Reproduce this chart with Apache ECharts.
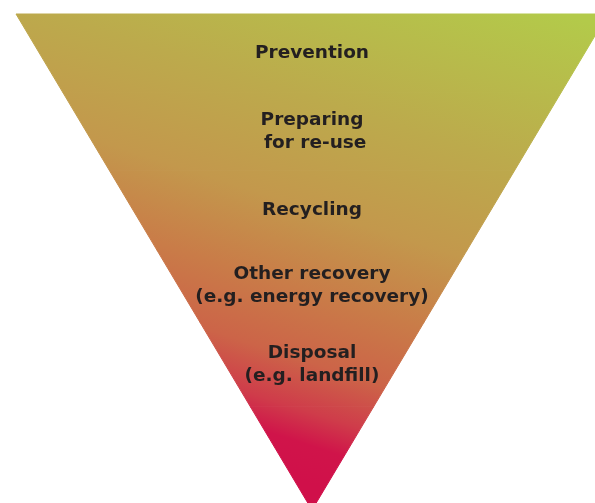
<!DOCTYPE html>
<html>
<head>
<meta charset="utf-8">
<script src="https://cdn.jsdelivr.net/npm/echarts@6/dist/echarts.min.js"></script>
<style>
html,body{margin:0;padding:0;background:#fff;}
#chart{width:595px;height:503px;}
</style>
</head>
<body>
<div id="chart"></div>
<script>
// Waste hierarchy levels (top to bottom); last piece is the unlabeled tip
const levels = ['Prevention', 'Preparing\n for re-use', 'Recycling', 'Other recovery\n(e.g. energy recovery)', 'Disposal\n(e.g. landfill)', ''];
// relative width of the triangle at the top of each level (% of full top width)
const widths = [100, 84.2, 68.5, 52.4, 37.9, 20.8];

const chart = echarts.init(document.getElementById('chart'), null, {renderer: 'canvas'});

const grad = new echarts.graphic.LinearGradient(520, 0, 360, 500, [
  {offset: 0, color: '#b3ca4a'},
  {offset: 0.3, color: '#bcaa4c'},
  {offset: 0.5, color: '#c3984c'},
  {offset: 0.65, color: '#c97c48'},
  {offset: 0.78, color: '#cc6448'},
  {offset: 0.87, color: '#cf3c4a'},
  {offset: 0.93, color: '#d0144a'},
  {offset: 1, color: '#d0104a'}
], true);

const data = levels.map((name, i) => ({
  name: name,
  value: widths[i],
  itemStyle: {
    height: (widths[i] - (i + 1 < widths.length ? widths[i + 1] : 0)) + '%'
  },
  label: {show: name !== ''}
}));

chart.setOption({
  animation: false,
  series: [{
    type: 'funnel',
    sort: 'none',
    left: 16,
    top: 14,
    width: 592,
    height: 496,
    min: 0,
    max: 100,
    minSize: '0%',
    maxSize: '100%',
    gap: 0,
    funnelAlign: 'center',
    itemStyle: {color: grad, borderColor: grad, borderWidth: 1},
    label: {
      show: true,
      position: 'inside',
      formatter: '{b}',
      color: '#231f20',
      fontFamily: 'DejaVu Sans',
      fontWeight: 'bold',
      fontSize: 18.5,
      lineHeight: 23,
      textBorderWidth: 0
    },
    labelLine: {show: false},
    emphasis: {disabled: true},
    data: data
  }]
});
</script>
</body>
</html>
